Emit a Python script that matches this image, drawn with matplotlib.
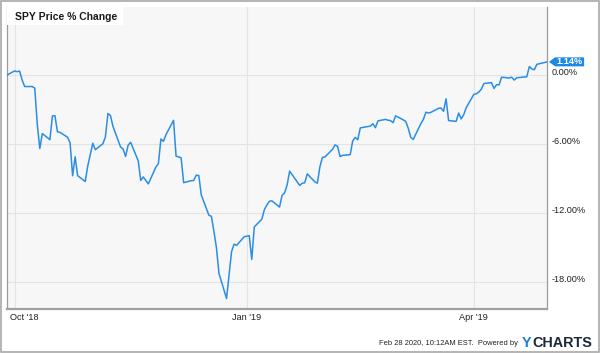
import matplotlib
matplotlib.use("Agg")
import matplotlib.pyplot as plt
import matplotlib.patches as mpatches
import matplotlib.transforms as mtransforms
from matplotlib.path import Path
import numpy as np

# SPY daily % change vs. 2018-09-28 close
dates = [
    "2018-09-28", "2018-10-01", "2018-10-02", "2018-10-03", "2018-10-04", "2018-10-05",
    "2018-10-08", "2018-10-09", "2018-10-10", "2018-10-11", "2018-10-12", "2018-10-15",
    "2018-10-16", "2018-10-17", "2018-10-18", "2018-10-19", "2018-10-22", "2018-10-23",
    "2018-10-24", "2018-10-25", "2018-10-26", "2018-10-29", "2018-10-30", "2018-10-31",
    "2018-11-01", "2018-11-02", "2018-11-05", "2018-11-06", "2018-11-07", "2018-11-08",
    "2018-11-09", "2018-11-12", "2018-11-13", "2018-11-14", "2018-11-15", "2018-11-16",
    "2018-11-19", "2018-11-20", "2018-11-21", "2018-11-23", "2018-11-26", "2018-11-27",
    "2018-11-28", "2018-11-29", "2018-11-30", "2018-12-03", "2018-12-04", "2018-12-06",
    "2018-12-07", "2018-12-10", "2018-12-11", "2018-12-12", "2018-12-13", "2018-12-14",
    "2018-12-17", "2018-12-18", "2018-12-19", "2018-12-20", "2018-12-21", "2018-12-24",
    "2018-12-26", "2018-12-27", "2018-12-28", "2018-12-31", "2019-01-02", "2019-01-03",
    "2019-01-04", "2019-01-07", "2019-01-08", "2019-01-09", "2019-01-10", "2019-01-11",
    "2019-01-14", "2019-01-15", "2019-01-16", "2019-01-17", "2019-01-18", "2019-01-22",
    "2019-01-23", "2019-01-24", "2019-01-25", "2019-01-28", "2019-01-29", "2019-01-30",
    "2019-01-31", "2019-02-01", "2019-02-04", "2019-02-05", "2019-02-06", "2019-02-07",
    "2019-02-08", "2019-02-11", "2019-02-12", "2019-02-13", "2019-02-14", "2019-02-15",
    "2019-02-19", "2019-02-20", "2019-02-21", "2019-02-22", "2019-02-25", "2019-02-26",
    "2019-02-27", "2019-02-28", "2019-03-01", "2019-03-04", "2019-03-05", "2019-03-06",
    "2019-03-07", "2019-03-08", "2019-03-11", "2019-03-12", "2019-03-13", "2019-03-14",
    "2019-03-15", "2019-03-18", "2019-03-19", "2019-03-20", "2019-03-21", "2019-03-22",
    "2019-03-25", "2019-03-26", "2019-03-27", "2019-03-28", "2019-03-29", "2019-04-01",
    "2019-04-02", "2019-04-03", "2019-04-04", "2019-04-05", "2019-04-08", "2019-04-09",
    "2019-04-10", "2019-04-11", "2019-04-12", "2019-04-15", "2019-04-16", "2019-04-17",
    "2019-04-18", "2019-04-22", "2019-04-23", "2019-04-24", "2019-04-25", "2019-04-26",
    "2019-04-29", "2019-04-30",
]
pct_change = [
    0.00, 0.35, 0.29, 0.34, -0.44, -1.00,
    -1.00, -1.14, -4.27, -6.38, -5.08, -5.61,
    -3.55, -3.53, -4.93, -4.98, -5.40, -5.89,
    -8.74, -7.10, -8.73, -9.24, -7.89, -6.91,
    -5.92, -6.48, -5.96, -5.37, -3.34, -3.52,
    -4.46, -6.24, -6.42, -7.06, -6.09, -5.84,
    -7.44, -9.15, -8.84, -9.45, -7.99, -7.68,
    -5.55, -5.76, -5.18, -3.93, -7.04, -7.18,
    -9.34, -9.17, -9.15, -8.69, -8.72, -10.41,
    -12.16, -12.26, -13.57, -14.98, -17.21, -19.39,
    -15.32, -14.67, -14.78, -14.03, -13.94, -16.00,
    -13.18, -12.50, -11.68, -11.27, -10.95, -10.92,
    -11.46, -10.45, -10.23, -9.55, -8.34, -9.58,
    -9.39, -9.35, -8.58, -9.27, -9.39, -7.96,
    -7.15, -7.11, -6.45, -6.06, -6.18, -7.08,
    -6.97, -6.91, -5.72, -5.41, -5.62, -4.59,
    -4.43, -4.23, -4.57, -3.98, -3.85, -3.92,
    -3.96, -4.14, -3.54, -3.89, -4.02, -4.61,
    -5.40, -5.59, -4.22, -3.86, -3.23, -3.29,
    -3.24, -2.89, -2.86, -3.15, -2.06, -3.95,
    -4.02, -3.30, -3.81, -3.44, -2.83, -1.68,
    -1.63, -1.48, -1.22, -0.74, -0.66, -1.17,
    -0.84, -0.86, -0.19, -0.26, -0.19, -0.44,
    -0.24, -0.15, 0.74, 0.52, 0.46, 0.93,
    1.08, 1.14,
]

x_ticks = ["2018-10-01", "2019-01-01", "2019-04-01"]
x_labels = ["Oct '18", "Jan '19", "Apr '19"]
y_ticks = [-18, -12, -6, 0]
y_labels = ["-18.00%", "-12.00%", "-6.00%", "0.00%"]

title = "SPY Price % Change"
footer = "Feb 28 2020, 10:12AM EST.  Powered by"

line_color = "#2a8de6"
font = "Liberation Sans"

x = np.array(dates, dtype="datetime64[D]")

fig = plt.figure(figsize=(6.0, 3.53), dpi=100)
ax = fig.add_axes([7 / 600, 44 / 353, 540 / 600, 302 / 353])
ax.set_facecolor("#f7f7f7")

ax.plot(x, pct_change, color=line_color, lw=1.1, zorder=3)

ax.set_xlim(x[0], x[-1])
ax.set_ylim(-20.3, 5.9)

ax.set_xticks(np.array(x_ticks, dtype="datetime64[D]"))
ax.set_xticklabels(x_labels, fontsize=6.6, family=font, color="#222222")
ax.set_yticks(y_ticks)
ax.set_yticklabels(y_labels, fontsize=6.6, family=font, color="#222222", va="baseline")
ax.yaxis.tick_right()
ax.tick_params(axis="both", length=0)
ax.tick_params(axis="x", pad=3)
ax.tick_params(axis="y", pad=3)

# first date label sits just right of the frame, left aligned
oct_label = ax.xaxis.get_ticklabels()[0]
oct_label.set_horizontalalignment("left")
oct_label.set_transform(oct_label.get_transform()
                        + mtransforms.ScaledTranslation(-5 / 100, 0, fig.dpi_scale_trans))

ax.grid(True, color="#e4e4e4", lw=0.8, zorder=0)
ax.set_axisbelow(True)

ax.spines["top"].set_visible(False)
for side in ["left", "right"]:
    ax.spines[side].set_color("#9a9a9a")
    ax.spines[side].set_linewidth(0.9)
ax.spines["bottom"].set_color("#a0a0a0")
ax.spines["bottom"].set_linewidth(1.6)

# title box
ax.add_patch(mpatches.Rectangle((0, 1 - 18 / 302), 116 / 540, 18 / 302,
                                transform=ax.transAxes, facecolor="white",
                                edgecolor="none", zorder=4))
ax.text(8 / 540, 1 - 9.5 / 302, title, transform=ax.transAxes, fontsize=7.5,
        fontweight="bold", family=font, color="#1a1a1a", va="center", ha="left",
        zorder=5)


# last value tag with a pointed left side
def tag_box(x0, y0, width, height, mutation_size):
    left = x0 - 1
    right = x0 + width + 2
    tip = x0 - 7
    verts = [(left, y0), (right, y0), (right, y0 + height), (left, y0 + height),
             (tip, y0 + height / 2), (left, y0)]
    codes = [Path.MOVETO] + [Path.LINETO] * 4 + [Path.CLOSEPOLY]
    return Path(verts, codes)


ax.annotate(f"{pct_change[-1]:.2f}%", xy=(x[-1], pct_change[-1]),
            xytext=(9, 0), textcoords="offset pixels", fontsize=6.6,
            fontweight="bold", family=font, color="white", va="center", ha="left",
            bbox=dict(boxstyle=tag_box, facecolor="#1e88e5", edgecolor="none"),
            annotation_clip=False, zorder=6)

# footer
fig.text(592 / 600, 1 - 347 / 353, "CHARTS", fontsize=10.4, fontweight="bold",
         family=font, color="#1b2836", ha="right", va="baseline")
fig.text(531.5 / 600, 1 - 347 / 353, "Y", fontsize=10.4, fontweight="bold",
         family=font, color="#1a7fdc", ha="right", va="baseline")
fig.text(518 / 600, 1 - 345 / 353, footer, fontsize=5.4, family=font,
         color="#222222", ha="right", va="baseline")

# outer frame
fig.patches.append(mpatches.Rectangle((0.001, 0.002), 0.997, 0.996,
                                      transform=fig.transFigure, fill=False,
                                      edgecolor="#a8a8a8", lw=1.2))

fig.savefig("out.png", dpi=100)
